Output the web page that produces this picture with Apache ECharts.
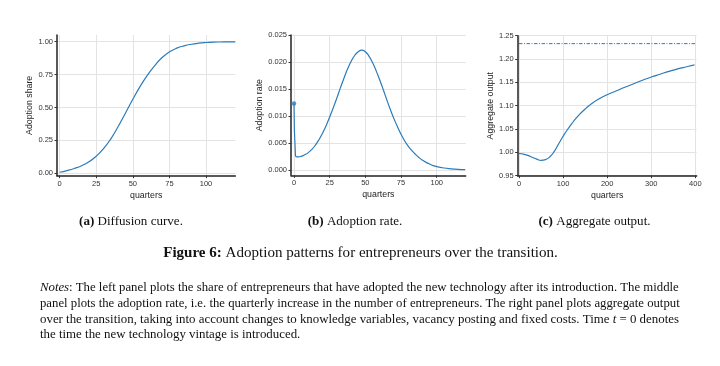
<!DOCTYPE html>
<html>
<head>
<meta charset="utf-8">
<script src="https://cdn.jsdelivr.net/npm/echarts@6/dist/echarts.min.js"></script>
<style>html,body{margin:0;padding:0;background:#fff;}#c{width:720px;height:366px;}</style>
</head>
<body>
<div id="c"></div>
<script>
// ---- Data ----
const shareQuarters = [0,5,10,15,20,25,30,35,40,45,50,55,60,65,70,75,80,85,90,95,100,105,110,115,120];
const shareValues   = [0.008,0.021,0.037,0.058,0.088,0.130,0.187,0.262,0.355,0.458,0.562,0.660,0.746,0.818,0.879,0.922,0.950,0.968,0.980,0.988,0.993,0.996,0.997,0.998,0.998];

const rateQuarters = [0,1,2,3,5,7.5,10,12.5,15,17.5,20,22.5,25,27.5,30,32.5,35,37.5,40,42.5,45,47.5,50,52.5,55,57.5,60,62.5,65,67.5,70,72.5,75,77.5,80,82.5,85,87.5,90,92.5,95,97.5,100,105,110,115,120];
const rateValues   = [0.0123,0.0027,0.0024,0.0024,0.0025,0.0028,0.0032,0.0038,0.0046,0.0056,0.0068,0.0082,0.0098,0.0115,0.0133,0.0152,0.0170,0.0187,0.0201,0.0212,0.0219,0.0222,0.0219,0.0211,0.0199,0.0184,0.0167,0.0149,0.0130,0.0112,0.0095,0.0080,0.0066,0.0054,0.0044,0.0036,0.0029,0.0023,0.0018,0.0014,0.0011,0.0008,0.0006,0.00035,0.0002,0.0001,0.00005];

const outputQuarters = [0,10,20,30,40,50,60,70,80,90,100,110,120,130,140,150,160,170,180,190,200,220,240,260,280,300,320,340,360,380,398];
const outputValues   = [0.998,0.9962,0.9935,0.9895,0.9855,0.9830,0.9845,0.9905,1.002,1.0185,1.0345,1.0490,1.0620,1.0740,1.0840,1.0930,1.1010,1.1080,1.1140,1.1190,1.1235,1.1315,1.1395,1.1470,1.1545,1.1615,1.1675,1.1735,1.1790,1.1835,1.1875];
const steadyStateOutput = 1.233;
const steadyStateSpan = [0, 400];

const xTicksAB = [0,25,50,75,100];
const xTicksC  = [0,100,200,300,400];
const yTicksA  = [0,0.25,0.5,0.75,1.0];
const yTicksB  = [0,0.005,0.010,0.015,0.020,0.025];
const yTicksC  = [0.95,1.00,1.05,1.10,1.15,1.20,1.25];

const xTitle = 'quarters';
const yTitles = ['Adoption share','Adoption rate','Aggregate output'];
const captions = [['(a)',' Diffusion curve.'],['(b)',' Adoption rate.'],['(c)',' Aggregate output.']];
const figureLabel = 'Figure 6:';
const figureText = ' Adoption patterns for entrepreneurs over the transition.';
const notesLines = [
  [['i','Notes'],['n',': The left panel plots the share of entrepreneurs that have adopted the new technology after its introduction. The middle']],
  [['n','panel plots the adoption rate, i.e. the quarterly increase in the number of entrepreneurs. The right panel plots aggregate output']],
  [['n','over the transition, taking into account changes to knowledge variables, vacancy posting and fixed costs. Time '],['i','t'],['n',' = 0 denotes']],
  [['n','the time the new technology vintage is introduced.']]
];

// ---- helpers ----
const SERIF = '"Liberation Serif", "DejaVu Serif", serif';
const SANS = '"Liberation Sans", Arial, sans-serif';
const LINE = '#2b7bba';
const mctx = document.createElement('canvas').getContext('2d');
function measure(segs, size) {
  let w = 0;
  for (const [k, t] of segs) {
    const st = k === 'i' ? 'italic ' : (k === 'b' ? 'bold ' : '');
    mctx.font = st + size + 'px ' + SERIF;
    w += mctx.measureText(t).width;
  }
  return w;
}
function fitSize(segs, width) { return 100 * width / measure(segs, 100); }
function richText(segs) {
  return segs.map(([k, t]) => k === 'n' ? t : '{' + k + '|' + t + '}').join('');
}
function richStyles(size) {
  return {
    i: {fontStyle: 'italic', fontSize: size, fontFamily: SERIF, fill: '#111'},
    b: {fontWeight: 'bold', fontSize: size, fontFamily: SERIF, fill: '#111'}
  };
}
const zip = (xs, ys) => xs.map((x, i) => [x, ys[i]]);

function xAx(gi, min, max, ticks) {
  return {
    gridIndex: gi, type: 'value', min: min, max: max,
    name: xTitle, nameLocation: 'middle', nameGap: 15,
    nameTextStyle: {fontSize: 8.8, fontFamily: SANS, color: '#222'},
    axisLine: {show: true, onZero: false, lineStyle: {color: '#222', width: 1.5}},
    axisTick: {show: true, length: 2.5, customValues: ticks, lineStyle: {color: '#333', width: 1}},
    axisLabel: {customValues: ticks, margin: 4, fontSize: 7.5, fontFamily: SANS, color: '#333', showMinLabel: true, showMaxLabel: true},
    splitLine: {show: true, lineStyle: {color: '#e3e3e3', width: 1}}
  };
}
function yAx(gi, min, max, ticks, digits, gap, name) {
  return {
    gridIndex: gi, type: 'value', min: min, max: max,
    name: name, nameLocation: 'middle', nameGap: gap, nameRotate: 90,
    nameTextStyle: {fontSize: 8.8, fontFamily: SANS, color: '#222'},
    axisLine: {show: true, onZero: false, lineStyle: {color: '#222', width: 1.5}},
    axisTick: {show: true, length: 2.5, customValues: ticks, lineStyle: {color: '#333', width: 1}},
    axisLabel: {customValues: ticks, margin: 4, fontSize: 7.5, fontFamily: SANS, color: '#333',
      formatter: v => Number(v).toFixed(digits)},
    splitLine: {show: true, lineStyle: {color: '#e3e3e3', width: 1}}
  };
}

const figSize = fitSize([['b', figureLabel], ['n', figureText]], 395);
const capSize = fitSize([['b', captions[0][0]], ['n', captions[0][1]]], 104);
const capCenters = [131, 355, 594.5];
const graphics = [];
captions.forEach((c, i) => {
  graphics.push({type: 'text', x: capCenters[i], y: 222,
    style: {text: '{b|' + c[0] + '}' + c[1], rich: richStyles(capSize),
      fontSize: capSize, fontFamily: SERIF, fill: '#111', align: 'center', verticalAlign: 'middle'}});
});
graphics.push({type: 'text', x: 360.5, y: 253,
  style: {text: '{b|' + figureLabel + '}' + figureText, rich: richStyles(figSize), fontSize: figSize, fontFamily: SERIF,
    fill: '#111', align: 'center', verticalAlign: 'middle'}});
const notesY = [287.5, 303.3, 319.2, 335];
let lastSize = 12;
notesLines.forEach((segs, i) => {
  let s = (i < 3) ? fitSize(segs, 640) : lastSize;
  lastSize = s;
  graphics.push({type: 'text', x: 40, y: notesY[i],
    style: {text: richText(segs), rich: richStyles(s), fontSize: s, fontFamily: SERIF,
      fill: '#111', align: 'left', verticalAlign: 'middle'}});
});

const chart = echarts.init(document.getElementById('c'), null, {renderer: 'canvas'});
chart.setOption({
  animation: false,
  backgroundColor: '#fff',
  grid: [
    {left: 57, top: 35, width: 178.3, height: 140.7},
    {left: 291, top: 35, width: 174.7, height: 140.3},
    {left: 517.7, top: 35.7, width: 179, height: 140}
  ],
  xAxis: [
    xAx(0, -1.8, 120, xTicksAB),
    xAx(1, -2.1, 120.3, xTicksAB),
    xAx(2, -3, 403, xTicksC)
  ],
  yAxis: [
    yAx(0, -0.018, 1.05, yTicksA, 2, 21, yTitles[0]),
    yAx(1, -0.001, 0.025, yTicksB, 3, 25, yTitles[1]),
    yAx(2, 0.95, 1.25, yTicksC, 2, 21, yTitles[2])
  ],
  series: [
    {type: 'line', xAxisIndex: 0, yAxisIndex: 0, data: zip(shareQuarters, shareValues),
      showSymbol: false, smooth: 0.5, lineStyle: {color: LINE, width: 1.2}},
    {type: 'line', xAxisIndex: 1, yAxisIndex: 1, data: zip(rateQuarters, rateValues),
      showSymbol: false, smooth: 0.5, lineStyle: {color: LINE, width: 1.2}},
    {type: 'scatter', xAxisIndex: 1, yAxisIndex: 1, data: [[rateQuarters[0], rateValues[0]]],
      symbol: 'circle', symbolSize: 4.5, itemStyle: {color: LINE}},
    {type: 'line', xAxisIndex: 2, yAxisIndex: 2, data: zip(outputQuarters, outputValues),
      showSymbol: false, smooth: 0.5, lineStyle: {color: LINE, width: 1.2}},
    {type: 'line', xAxisIndex: 2, yAxisIndex: 2, data: steadyStateSpan.map(x => [x, steadyStateOutput]),
      showSymbol: false, lineStyle: {color: LINE, width: 1, type: [3.5, 1.5, 1, 1.5]}}
  ],
  graphic: graphics
});
</script>
</body>
</html>
